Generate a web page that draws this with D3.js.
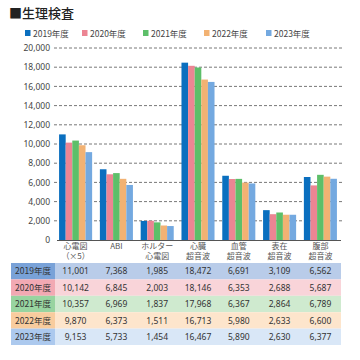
<!DOCTYPE html>
<html>
<head>
<meta charset="utf-8">
<script src="https://cdn.jsdelivr.net/npm/d3@7"></script>
<style>
body { margin: 0; background: #fff; }
text { font-family: "Noto Sans CJK JP", "Noto Sans", sans-serif; }
</style>
</head>
<body>
<div id="chart"></div>
<script>
// data
var categories = ['心電図\n（×5）', 'ABI', 'ホルター\n心電図', '心臓\n超音波', '血管\n超音波', '表在\n超音波', '腹部\n超音波'];
var years = ['2019年度', '2020年度', '2021年度', '2022年度', '2023年度'];
var v2019 = [11001, 7368, 1985, 18472, 6691, 3109, 6562];
var v2020 = [10142, 6845, 2003, 18146, 6353, 2688, 5687];
var v2021 = [10357, 6969, 1837, 17968, 6367, 2864, 6789];
var v2022 = [9870, 6373, 1511, 16713, 5980, 2633, 6600];
var v2023 = [9153, 5733, 1454, 16467, 5890, 2630, 6377];
var series = [v2019, v2020, v2021, v2022, v2023];
var yTicks = [0, 2000, 4000, 6000, 8000, 10000, 12000, 14000, 16000, 18000, 20000];

var barColors = ['#0a6fbf', '#ec8593', '#5dbf69', '#f2b273', '#74a9e0'];
var headColors = ['#79a2d8', '#f2a9b3', '#98d4a0', '#f8cc9e', '#acc9ee'];
var cellColors = ['#b9cce9', '#f9d4d9', '#cfeacf', '#fde5cc', '#d9e7f7'];

var svgWidth = 360, svgHeight = 360;
var svg = d3.select('#chart').append('svg')
    .attr('width', svgWidth)
    .attr('height', svgHeight);

// title
svg.append('text')
    .attr('x', 9).attr('y', 18)
    .style('font-size', '13px')
    .style('font-weight', '500')
    .attr('fill', '#222')
    .text('■生理検査');

// legend
var legendX = [25, 82, 143, 204, 266];
years.forEach(function(y, i) {
    svg.append('rect')
        .attr('x', legendX[i]).attr('y', 30)
        .attr('width', 5.5).attr('height', 6)
        .attr('fill', barColors[i]);
    svg.append('text')
        .attr('x', legendX[i] + 8).attr('y', 36.5)
        .style('font-size', '8.5px')
        .attr('fill', '#444')
        .text(y);
});

// scales
var x = d3.scaleBand().domain(d3.range(categories.length)).range([55, 341]).paddingInner(0.19).paddingOuter(0.1);
var xi = d3.scaleBand().domain(d3.range(years.length)).range([0, x.bandwidth()]);
var y = d3.scaleLinear().domain([0, 20000]).range([240, 48]);

// grid
svg.append('g').selectAll('line')
    .data(yTicks.slice(1))
    .enter().append('line')
    .attr('x1', 54).attr('x2', 342)
    .attr('y1', d => y(d)).attr('y2', d => y(d))
    .attr('stroke', '#555')
    .attr('stroke-width', 0.8)
    .attr('stroke-dasharray', '3,2');

var yAxis = svg.append('g')
    .attr('transform', 'translate(52,0)')
    .call(d3.axisLeft(y).tickValues(yTicks).tickSize(0).tickPadding(2).tickFormat(d3.format(',')));
yAxis.select('.domain').remove();
yAxis.selectAll('text')
    .style('font-size', '8.5px')
    .style('font-family', '"Noto Sans", sans-serif')
    .attr('fill', '#444');

// bars
series.forEach(function(vals, s) {
    svg.append('g').selectAll('rect')
        .data(vals)
        .enter().append('rect')
        .attr('x', (d, i) => x(i) + xi(s))
        .attr('y', d => y(d))
        .attr('width', xi.bandwidth())
        .attr('height', d => 240 - y(d))
        .attr('fill', barColors[s]);
});

// baseline
svg.append('line')
    .attr('x1', 57).attr('x2', 341)
    .attr('y1', 240.5).attr('y2', 240.5)
    .attr('stroke', '#555')
    .attr('stroke-width', 1);

// x labels
categories.forEach(function(c, i) {
    var t = svg.append('text')
        .attr('text-anchor', 'middle')
        .style('font-size', '8px')
        .attr('fill', '#555');
    c.split('\n').forEach(function(line, k) {
        t.append('tspan')
            .attr('x', x(i) + x.bandwidth() / 2)
            .attr('y', 248.5 + k * 10)
            .text(line);
    });
});

// table
var rowTop = 263, rowH = 16.4;
series.forEach(function(vals, s) {
    var ry = rowTop + s * rowH;
    svg.append('rect')
        .attr('x', 55).attr('y', ry)
        .attr('width', 286).attr('height', rowH)
        .attr('fill', cellColors[s]);
    svg.append('rect')
        .attr('x', 11).attr('y', ry)
        .attr('width', 44).attr('height', rowH)
        .attr('fill', headColors[s]);
    svg.append('text')
        .attr('x', 33).attr('y', ry + rowH / 2 + 3.2)
        .attr('text-anchor', 'middle')
        .style('font-size', '8.5px')
        .attr('fill', '#333')
        .text(years[s]);
    svg.append('g').selectAll('text')
        .data(vals)
        .enter().append('text')
        .attr('x', (d, i) => x(i) + x.bandwidth() / 2)
        .attr('y', ry + rowH / 2 + 3.2)
        .attr('text-anchor', 'middle')
        .style('font-size', '8.5px')
        .style('font-family', '"Noto Sans", sans-serif')
        .attr('fill', '#333')
        .text(d => d3.format(',')(d));
});
</script>
</body>
</html>
